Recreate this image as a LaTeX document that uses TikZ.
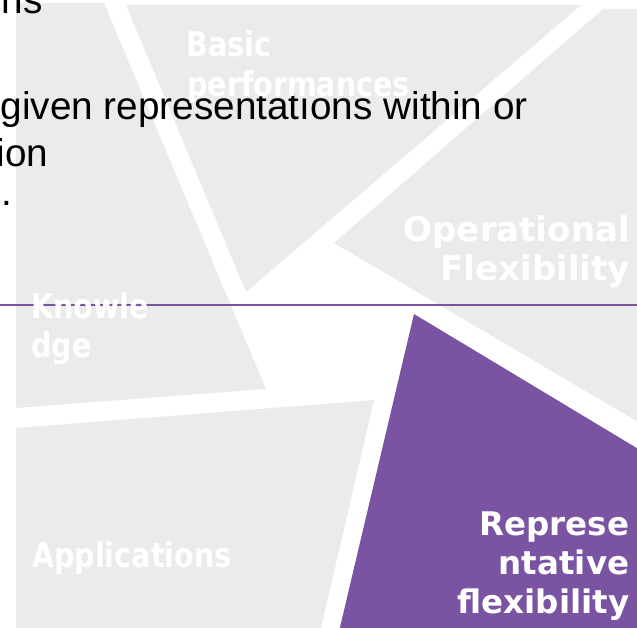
\documentclass[tikz,border=0pt]{standalone}
\usepackage{fontspec}
\setmainfont{Liberation Sans}
\newfontfamily\lblc{DejaVu Sans Bold}[FakeStretch=0.84]
\newfontfamily\lbln{DejaVu Sans Bold}
\definecolor{tilegray}{RGB}{235,235,235}
\definecolor{tilepurple}{RGB}{122,84,162}
\begin{document}
\begin{tikzpicture}[x=1pt,y=-1pt,
  tile/.style={fill=tilegray,draw=none},
  hot/.style={fill=tilepurple,draw=none},
  rule/.style={draw=tilepurple,line width=1.5pt},
  bodytext/.style={text=black,inner sep=0pt,font=\fontsize{38.7}{46}\selectfont},
  lblcond/.style={text=white,inner sep=0pt,font=\lblc\fontsize{34}{40}\selectfont},
  lblop/.style={text=white,inner sep=0pt,font=\lbln\fontsize{34}{40}\selectfont},
  lblrep/.style={text=white,inner sep=0pt,font=\lbln\fontsize{32.5}{40}\selectfont}]
\useasboundingbox (0,0) rectangle (637,628);
\begin{scope}
  \clip (0,0) rectangle (637,628);
  % Knowledge
  \path[tile] (16,3) -- (104,3) -- (266,389) -- (16,408) -- cycle;
  % Basic performances
  \path[tile] (126,5) -- (581,5) -- (246,292) -- cycle;
  % Operational flexibility
  \path[tile] (603,9) -- (650,9) -- (650,429) -- (334,243) -- cycle;
  % Applications
  \path[tile] (16,428) -- (374,400) -- (318.2,640) -- (16,640) -- cycle;
  % Representative flexibility
  \path[hot] (414,314) -- (650,456) -- (650,640) -- (337,640) -- cycle;
  % horizontal rule
  \path[rule] (0,305) -- (637,305);
\end{scope}
% slide body text (cut off at left)
\node[bodytext,anchor=base east] (t1) at (43,14) {ons};
\node[bodytext,anchor=base west] (t2) at (0.5,120) {given representatıons within or};
\node[bodytext,anchor=base east] (t3) at (48.5,167) {ion};
\node[bodytext,anchor=base west] (t4) at (1.5,206) {.};
% tile labels
\node[lblcond,anchor=base west] (basic1) at (186.5,57) {Basic};
\node[lblcond,anchor=base west] (basic2) at (187,97) {performances};
\node[lblop,anchor=base east] (op1) at (630,242) {Operational};
\node[lblop,anchor=base east] (op2) at (630,281) {Flexibility};
\node[lblcond,anchor=base west] (kn1) at (31,318) {Knowle};
\node[lblcond,anchor=base west] (kn2) at (31,357) {dge};
\node[lblcond,anchor=base west] (app) at (32,567) {Applications};
\node[lblrep,anchor=base east] (rep1) at (629.5,535) {Represe};
\node[lblrep,anchor=base east] (rep2) at (629.5,574) {ntative};
\node[lblrep,anchor=base east] (rep3) at (629.5,613) {flexibility};
\end{tikzpicture}
\end{document}
